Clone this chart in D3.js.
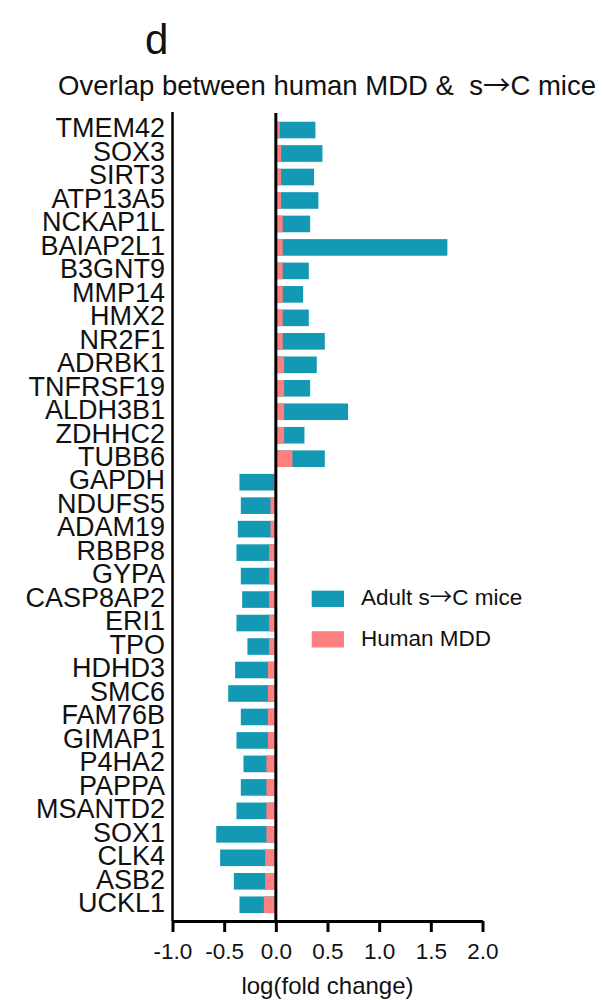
<!DOCTYPE html>
<html>
<head>
<meta charset="utf-8">
<script src="https://cdn.jsdelivr.net/npm/d3@7"></script>
<style>
  html, body { margin: 0; padding: 0; background: #fff; }
  svg { display: block; }
  text { font-family: "Liberation Sans", Arial, sans-serif; fill: #111; }
  .arrow { font-family: "Noto Sans CJK SC", "Liberation Sans", sans-serif; }
</style>
</head>
<body>
<svg id="chart" width="603" height="1000"></svg>
<script>
const genes = ["TMEM42","SOX3","SIRT3","ATP13A5","NCKAP1L","BAIAP2L1","B3GNT9","MMP14","HMX2","NR2F1","ADRBK1","TNFRSF19","ALDH3B1","ZDHHC2","TUBB6","GAPDH","NDUFS5","ADAM19","RBBP8","GYPA","CASP8AP2","ERI1","TPO","HDHD3","SMC6","FAM76B","GIMAP1","P4HA2","PAPPA","MSANTD2","SOX1","CLK4","ASB2","UCKL1"];
const humanMDD = [0.038,0.051,0.051,0.051,0.067,0.067,0.067,0.067,0.067,0.067,0.080,0.080,0.080,0.080,0.161,-0.015,-0.052,-0.052,-0.065,-0.065,-0.065,-0.065,-0.065,-0.077,-0.077,-0.077,-0.077,-0.091,-0.091,-0.091,-0.091,-0.103,-0.103,-0.116];
const adultMice = [0.383,0.451,0.370,0.412,0.332,1.660,0.319,0.264,0.319,0.474,0.396,0.332,0.699,0.277,0.474,-0.352,-0.339,-0.368,-0.381,-0.339,-0.326,-0.381,-0.275,-0.394,-0.461,-0.339,-0.381,-0.313,-0.339,-0.381,-0.577,-0.539,-0.406,-0.352];
const xTicks = [-1.0,-0.5,0.0,0.5,1.0,1.5,2.0];
const seriesNames = [["Adult s", "\u2192", "C mice"], ["Human MDD"]];
const seriesColors = ["#1399b3","#ff8080"];

const svg = d3.select("#chart");
const x = d3.scaleLinear().domain([-1, 2]).range([172.5, 482.5]);
const y = d3.scaleBand().domain(genes).range([118.3, 916.5]).paddingInner(0.293).paddingOuter(0.1465);

function addParts(sel, parts) {
  parts.forEach((p, k) => {
    const t = sel.append("tspan").text(p);
    if (p === "\u2192") t.attr("class", "arrow");
  });
}

// title
svg.append("text").attr("x", 145).attr("y", 54).style("font-size", "42px").text("d");
const sub = svg.append("text").attr("x", 58).attr("y", 95).style("font-size", "27.5px").style("white-space", "pre");
addParts(sub, ["Overlap between human MDD &  s", "\u2192", "C mice"]);

// bars: mice
svg.append("g").selectAll("rect").data(genes).join("rect")
  .attr("x", (d, i) => Math.min(x(0), x(adultMice[i])))
  .attr("width", (d, i) => Math.abs(x(adultMice[i]) - x(0)))
  .attr("y", d => y(d))
  .attr("height", y.bandwidth())
  .attr("fill", seriesColors[0]);
// bars: human
svg.append("g").selectAll("rect").data(genes).join("rect")
  .attr("x", (d, i) => Math.min(x(0), x(humanMDD[i])))
  .attr("width", (d, i) => Math.abs(x(humanMDD[i]) - x(0)))
  .attr("y", d => y(d))
  .attr("height", y.bandwidth())
  .attr("fill", seriesColors[1]);

// zero line
svg.append("line").attr("x1", x(0)).attr("x2", x(0)).attr("y1", 113).attr("y2", 921)
  .attr("stroke", "#000").attr("stroke-width", 3);

// left axis
const yAxis = d3.axisLeft(y).tickSize(0).tickPadding(7.5);
const gy = svg.append("g").attr("transform", "translate(172.5,0)").call(yAxis);
gy.select(".domain").attr("d", "M0,112V921").attr("stroke", "#000").attr("stroke-width", 2.5);
gy.selectAll(".tick text").style("font-size", "27px").attr("dy", null).attr("y", 7.3)
  .style("font-family", "'Liberation Sans', Arial, sans-serif").attr("fill", "#111");

// bottom axis
const xAxis = d3.axisBottom(x).tickValues(xTicks).tickFormat(d3.format(".1f")).tickSize(11).tickPadding(4)
  .tickSizeOuter(0);
const gx = svg.append("g").attr("transform", "translate(0,921)").call(xAxis);
gx.select(".domain").attr("stroke", "#000").attr("stroke-width", 3);
gx.selectAll(".tick line").attr("stroke", "#000").attr("stroke-width", 3);
gx.selectAll(".tick text").style("font-size", "22.5px").attr("dy", null).attr("y", 37.5)
  .style("font-family", "'Liberation Sans', Arial, sans-serif").attr("fill", "#111")
  .text(d => d3.format(".1f")(d).replace("\u2212", "-"));

svg.append("text").attr("x", x(0.5)).attr("y", 994).attr("text-anchor", "middle").style("font-size", "24px")
  .text("log(fold change)");

// legend
const lg = svg.append("g");
seriesNames.forEach((parts, i) => {
  lg.append("rect").attr("x", 311.7).attr("y", 590.7 + i * 40.5).attr("width", 32.3).attr("height", 16.3)
    .attr("fill", seriesColors[i]);
  const t = lg.append("text").attr("x", 361).attr("y", 605 + i * 41).style("font-size", "22.5px");
  addParts(t, parts);
});
</script>
</body>
</html>
